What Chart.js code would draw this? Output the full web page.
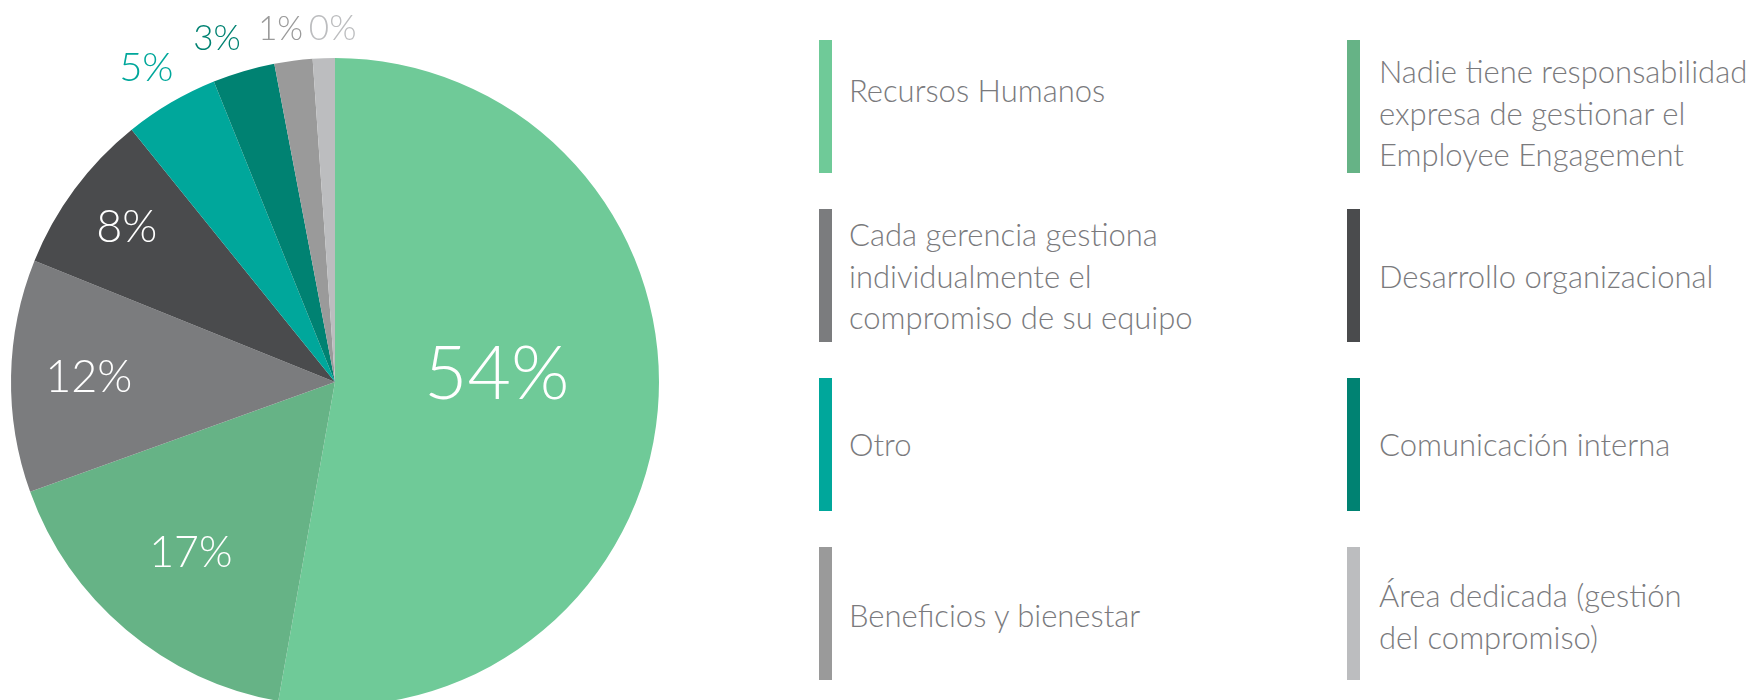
<!DOCTYPE html>
<html>
<head>
<meta charset="utf-8">
<script src="https://cdn.jsdelivr.net/npm/chart.js@4.4.0/dist/chart.umd.min.js"></script>
<style>
    html, body { margin: 0; padding: 0; background: #fff; }
    body { width: 1762px; height: 700px; overflow: hidden; position: relative; font-family: Lato, "Open Sans", sans-serif; }
    #pieChart { position: absolute; left: 0; top: 0; }
    .item { position: absolute; height: 133px; display: flex; align-items: center; }
    .item .bar { position: absolute; left: 0; top: 0; width: 13px; height: 133px; }
    .item .txt { position: relative; left: 30px; font-weight: 300; font-size: 31px; line-height: 41.5px; color: #7a7a7d; white-space: nowrap; }
</style>
</head>
<body>
<canvas id="pieChart" width="700" height="720"></canvas>
<div id="legend"></div>
<script>
// Categorías (en orden horario desde arriba)
const categories = [
    ['Recursos Humanos'],
    ['Nadie tiene responsabilidad', 'expresa de gestionar el', 'Employee Engagement'],
    ['Cada gerencia gestiona', 'individualmente el', 'compromiso de su equipo'],
    ['Desarrollo organizacional'],
    ['Otro'],
    ['Comunicación interna'],
    ['Beneficios y bienestar'],
    ['Área dedicada (gestión', 'del compromiso)']
];

// Tamaño de cada porción tal como está dibujada
const sliceValues = [52.8, 16.7, 11.6, 8.1, 4.7, 3.1, 1.9, 1.1];

// Porcentajes impresos sobre el gráfico
const percentLabels = ['54%', '17%', '12%', '8%', '5%', '3%', '1%', '0%'];

const sliceColors = ['#6fca98', '#66b386', '#7b7c7e', '#4a4b4d', '#00a79b', '#008272', '#9a9a9a', '#bcbdbf'];

// Estilo de las etiquetas: distancia relativa al radio, ajuste de ángulo (grados), tamaño, color
const labelRadius = [0.50, 0.69, 0.76, 0.80, 1.13, 1.12, 1.10, 1.09];
const labelShift = [-7.5, 0, 0, 0, -0.6, -2.6, -1.4, 1.6];
const labelSize = [75, 43, 45, 45, 40, 35, 33, 35];
const labelColor = ['#fff', '#fff', '#fff', '#fff', '#00a79b', '#008272', '#9a9a9a', '#bcbdbf'];

// Plugin para dibujar los porcentajes
const percentPlugin = {
    id: 'percentLabels',
    afterDatasetsDraw(chart) {
        const ctx = chart.ctx;
        const arcs = chart.getDatasetMeta(0).data;
        ctx.save();
        ctx.textAlign = 'center';
        ctx.textBaseline = 'middle';
        arcs.forEach((arc, i) => {
            const mid = (arc.startAngle + arc.endAngle) / 2 + labelShift[i] * Math.PI / 180;
            const r = arc.outerRadius * labelRadius[i];
            ctx.font = `300 ${labelSize[i]}px Lato, "Open Sans", sans-serif`;
            ctx.fillStyle = labelColor[i];
            ctx.fillText(percentLabels[i], arc.x + Math.cos(mid) * r, arc.y + Math.sin(mid) * r);
        });
        ctx.restore();
    }
};

new Chart(document.getElementById('pieChart'), {
    type: 'pie',
    data: {
        labels: categories,
        datasets: [{
            data: sliceValues,
            backgroundColor: sliceColors,
            borderWidth: 0
        }]
    },
    options: {
        responsive: false,
        animation: false,
        layout: { padding: { left: 11, right: 41, top: 58, bottom: 14 } },
        plugins: {
            legend: { display: false },
            tooltip: { enabled: false }
        }
    },
    plugins: [percentPlugin]
});

// Leyenda en HTML (dos columnas)
const colX = [819, 1347];
const rowY = [40, 209, 378, 547];
const textNudge = [-16, 7, 1, 1, 0, 0, 2, 3];
const legend = document.getElementById('legend');
categories.forEach((lines, i) => {
    const item = document.createElement('div');
    item.className = 'item';
    item.style.left = colX[i % 2] + 'px';
    item.style.top = rowY[Math.floor(i / 2)] + 'px';
    const bar = document.createElement('div');
    bar.className = 'bar';
    bar.style.background = sliceColors[i];
    const txt = document.createElement('div');
    txt.className = 'txt';
    txt.style.top = textNudge[i] + 'px';
    txt.style.left = (i % 2 ? 32 : 30) + 'px';
    txt.innerHTML = lines.join('<br>');
    item.appendChild(bar);
    item.appendChild(txt);
    legend.appendChild(item);
});
</script>
</body>
</html>
